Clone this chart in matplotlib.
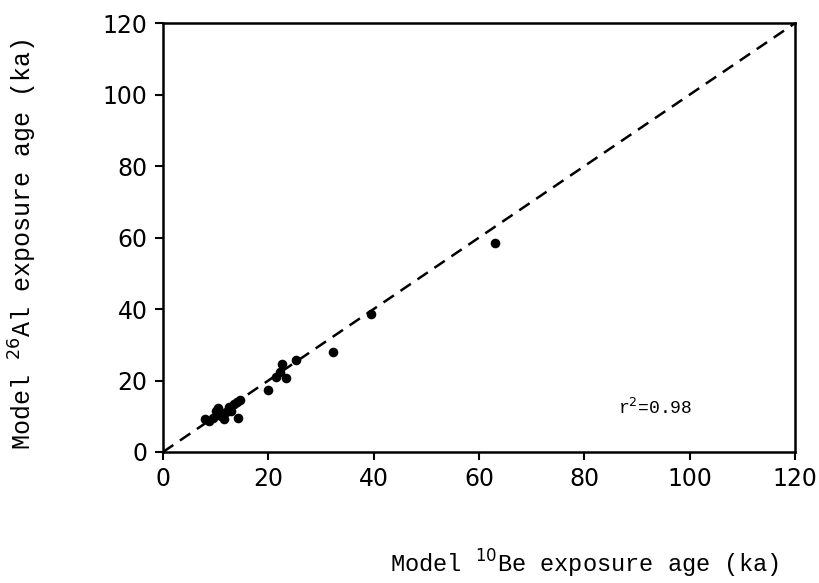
import matplotlib
matplotlib.use("Agg")
import numpy as np
import matplotlib.pyplot as plt

# data
be10_age = [8.0, 8.8, 9.5, 10.0, 10.5, 11.0, 11.5, 12.0, 12.5, 13.0, 13.5,
            14.0, 14.3, 14.6, 20.0, 21.5, 22.2, 22.6, 23.3, 25.3, 32.3, 39.5, 63.0]
al26_age = [9.3, 8.6, 9.5, 11.5, 12.3, 10.0, 9.3, 11.2, 12.5, 11.6, 13.5,
            14.0, 9.6, 14.5, 17.3, 21.0, 22.5, 24.5, 20.8, 25.6, 28.0, 38.5, 58.5]
ticks = [0, 20, 40, 60, 80, 100, 120]
r2_label = "r$^2$=0.98"

mono = "Liberation Mono"
tickfont = "DejaVu Sans"

fig = plt.figure(figsize=(8.19, 5.83), dpi=100)
ax = fig.add_axes([0.199, 0.2247, 0.772, 0.7358])

# 1:1 line
ax.plot([0, 120], [0, 120], ls=(0, (5, 3.2)), color="black", lw=1.8)
ax.scatter(be10_age, al26_age, s=48, color="black", zorder=3, linewidths=0)

ax.set_xlim(0, 120)
ax.set_ylim(0, 120)
ax.set_xticks(ticks)
ax.set_yticks(ticks)
ax.set_xticklabels([str(t) for t in ticks], fontsize=17, family=tickfont)
ax.set_yticklabels([str(t) for t in ticks], fontsize=17, family=tickfont)
ax.tick_params(direction="out", length=6, width=1.5, pad=5)
for sp in ax.spines.values():
    sp.set_linewidth(1.8)

ax.set_xlabel("Model $^{10}$Be exposure age (ka)", fontsize=17, family=mono)
ax.xaxis.label.set_va("center")
ax.xaxis.set_label_coords(0.666, -0.262)
ax.set_ylabel("Model $^{26}$Al exposure age (ka)", fontsize=18, family=mono)
ax.yaxis.label.set_va("center")
ax.yaxis.set_label_coords(-0.222, 0.483)

ax.text(86.3, 12.3, r2_label, fontsize=13, family=mono, va="center")

fig.savefig("out.png", dpi=100)
